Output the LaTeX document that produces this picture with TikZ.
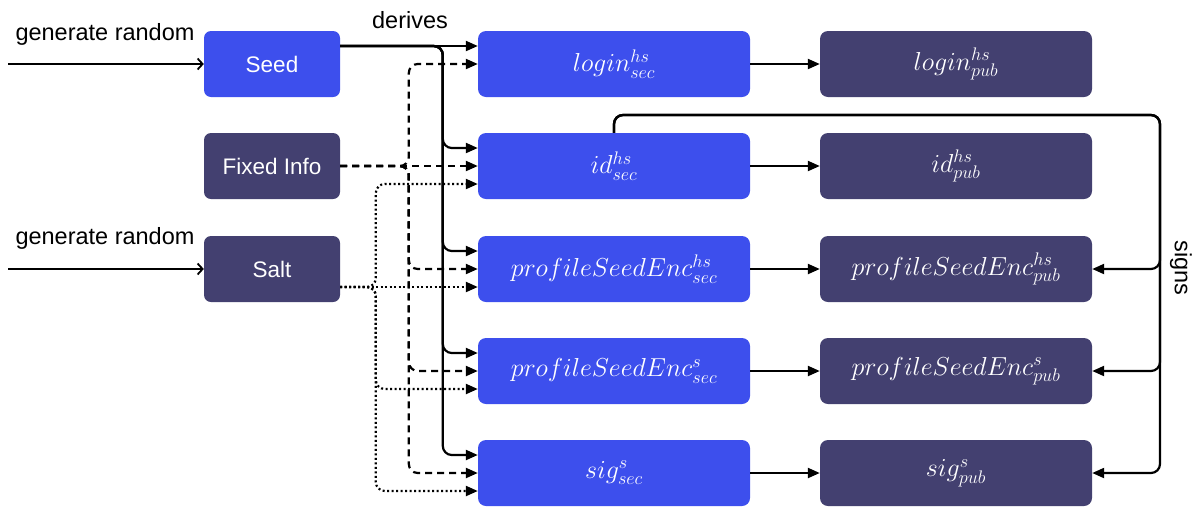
\RequirePackage{fix-cm}
\documentclass[tikz,border=0pt]{standalone}
\usepackage{fontspec}
\setmainfont{Liberation Sans}
\usetikzlibrary{arrows.meta}

\definecolor{secblue}{RGB}{61,79,237}
\definecolor{pubdark}{RGB}{67,64,112}

\tikzset{
  keybox/.style={rounded corners=8pt, minimum width=272pt, minimum height=66pt,
    inner sep=0pt, text=white, font=\fontsize{26}{30}\selectfont},
  secbox/.style={keybox, fill=secblue},
  pubbox/.style={keybox, fill=pubdark},
  srcbox/.style={rounded corners=7pt, minimum width=136pt, minimum height=66pt,
    inner sep=0pt, text=white, font=\fontsize{22.5}{26}\selectfont},
  caption/.style={inner sep=0pt, font=\fontsize{23.5}{28}\selectfont},
  blocktip/.style={-{Triangle[length=12pt,width=10pt]}},
  link/.style={line width=2.2pt, blocktip, rounded corners=9pt},
  derive/.style={link},
  fixedin/.style={link, dash pattern=on 7pt off 5pt},
  saltin/.style={link, dash pattern=on 2pt off 2.5pt},
  genin/.style={line width=1.8pt, -{Straight Barb[length=5pt,width=11pt]}},
}

\begin{document}
\begin{tikzpicture}[x=1pt, y=-1pt]
\useasboundingbox (0,0) rectangle (1197,507);

% sources
\node[srcbox, fill=secblue] (seed)  at (272,64)  {Seed};
\node[srcbox, fill=pubdark] (fixed) at (272,166) {Fixed Info};
\node[srcbox, fill=pubdark] (salt)  at (272,269) {Salt};

% secret keys
\node[secbox] (login) at (614,64)  {$login^{hs}_{sec}$};
\node[secbox] (id)    at (614,166) {$id^{hs}_{sec}$};
\node[secbox] (psh)   at (614,269) {$profileSeedEnc^{hs}_{sec}$};
\node[secbox] (pss)   at (614,371) {$profileSeedEnc^{s}_{sec}$};
\node[secbox] (sig)   at (614,473) {$sig^{s}_{sec}$};

% public keys
\node[pubbox] (loginp) at (956,64)  {$login^{hs}_{pub}$};
\node[pubbox] (idp)    at (956,166) {$id^{hs}_{pub}$};
\node[pubbox] (pshp)   at (956,269) {$profileSeedEnc^{hs}_{pub}$};
\node[pubbox] (pssp)   at (956,371) {$profileSeedEnc^{s}_{pub}$};
\node[pubbox] (sigp)   at (956,473) {$sig^{s}_{pub}$};

% labels
\node[caption] (gen1) at (105,34)  {generate random};
\node[caption] (gen2) at (105,238) {generate random};
\node[caption] (der)  at (410,20)  {derives};
\node[caption, rotate=-90] (sgn) at (1181,268) {signs};

% random inputs
\coordinate (in1) at (8,64);
\coordinate (in2) at (8,269);
\draw[genin] (in1) -- (seed.west);
\draw[genin] (in2) -- (salt.west);

% seed derives every secret key
\draw[derive] ([yshift=18pt]seed.east) -- ([yshift=18pt]login.west);
\foreach \t in {id,psh,pss,sig}
  \draw[derive] ([yshift=18pt]seed.east) -| ([xshift=-35pt,yshift=18pt]\t.west)
    -- ([yshift=18pt]\t.west);

% fixed info
\draw[fixedin] (fixed.east) -- (id.west);
\foreach \t in {login,psh,pss,sig}
  \draw[fixedin] (fixed.east) -| ([xshift=-69pt]\t.west) -- (\t.west);

% salt
\draw[saltin] ([yshift=-18pt]salt.east) -- ([yshift=-18pt]psh.west);
\foreach \t in {id,pss,sig}
  \draw[saltin] ([yshift=-18pt]salt.east) -| ([xshift=-102pt,yshift=-18pt]\t.west)
    -- ([yshift=-18pt]\t.west);

% secret to public
\draw[link] (login.east) -- (loginp.west);
\draw[link] (id.east) -- (idp.west);
\draw[link] (psh.east) -- (pshp.west);
\draw[link] (pss.east) -- (pssp.west);
\draw[link] (sig.east) -- (sigp.west);

% id key signs the other public keys
\coordinate (sgtop) at (1160,115);
\foreach \t in {pshp,pssp,sigp}
  \draw[link] (id.north) |- (sgtop) |- (\t.east);
\end{tikzpicture}
\end{document}
